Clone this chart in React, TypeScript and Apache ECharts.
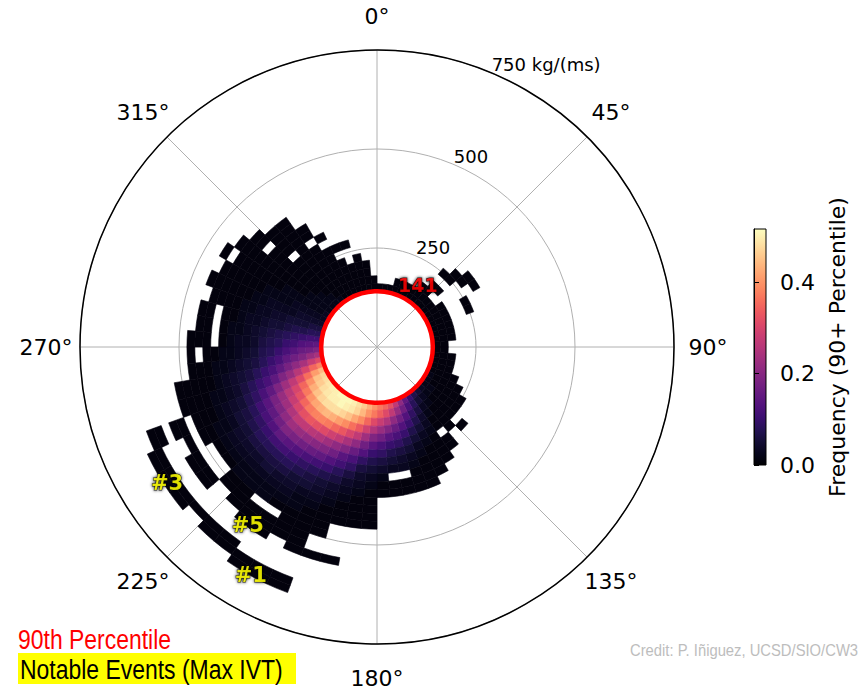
import React, { useEffect, useRef } from "react";
import * as echarts from "echarts";

// ---------- data ----------
const ANGLE_STEP = 5; // degrees, compass, clockwise from north
const R_START = 140; // kg/(ms), first radial bin edge
const R_STEP = 20; // kg/(ms)
const PCT90 = 141; // 90th percentile IVT
const R_MAX = 750;
const ANGLE_TICKS = [0, 45, 90, 135, 180, 225, 270, 315];
const RADIUS_TICKS = [250, 500, 750];
const RADIUS_UNIT = "kg/(ms)";
const COLOR_MAX = 0.516;
const COLORBAR_TICKS = [0, 0.2, 0.4];
const EVENT_NAMES = ["#1", "#5", "#3"];
const EVENT_IVT = [657, 555, 632];
const EVENT_DIR = [209, 216, 237];
const PCT_LABEL_IVT = 187;
const PCT_LABEL_DIR = 33.5;

// frequency (percent) per direction bin (row i = i*5 deg), radial bins from R_START by R_STEP; 0 = empty
const FREQ_ROWS: number[][] = [
  [1], // 0
  [1], // 5
  [1], // 10
  [1, 1], // 15
  [1, 1], // 20
  [1, 1], // 25
  [1, 1], // 30
  [1, 1, 1], // 35
  [1, 1, 1, 1, 0, 1], // 40
  [1, 1, 0, 1, 0, 1, 1], // 45
  [1, 1, 0, 0, 0, 0, 1, 1], // 50
  [1, 1, 1, 0, 0, 0, 0, 1], // 55
  [1, 1, 1, 0, 0, 1], // 60
  [1, 1, 1, 0, 0, 1], // 65
  [1, 1, 1], // 70
  [1, 1, 1], // 75
  [1, 1, 1], // 80
  [1, 1], // 85
  [1, 1], // 90
  [1, 1, 1], // 95
  [1, 1, 1], // 100
  [1, 1, 1], // 105
  [1, 1, 1, 1], // 110
  [2, 1, 1, 1, 1], // 115
  [2, 1, 1, 1, 1, 1], // 120
  [2, 2, 1, 1, 1, 1], // 125
  [3, 2, 1, 1, 1, 1, 0, 1], // 130
  [5, 3, 2, 1, 1, 1, 1], // 135
  [7, 5, 3, 2, 1, 1, 0, 1, 1], // 140
  [10, 8, 6, 4, 3, 2, 1, 1, 1, 1], // 145
  [15, 12, 9, 7, 5, 3, 2, 1, 1, 1, 1], // 150
  [21, 17, 13, 10, 7, 5, 3, 2, 1, 1, 1, 1], // 155
  [27, 22, 17, 13, 10, 7, 5, 3, 2, 1, 1, 1], // 160
  [32, 27, 21, 16, 12, 9, 6, 4, 3, 0, 1, 1], // 165
  [35, 31, 25, 19, 14, 10, 7, 5, 3, 0, 1, 1], // 170
  [37, 34, 28, 22, 17, 12, 9, 6, 4, 2, 1, 1], // 175
  [40, 37, 31, 25, 19, 14, 10, 7, 5, 3, 2, 1, 1, 1, 1, 1], // 180
  [43, 40, 35, 29, 23, 17, 13, 9, 6, 4, 3, 2, 1, 1, 1, 1], // 185
  [46, 44, 39, 33, 27, 21, 16, 12, 9, 6, 4, 3, 2, 1, 1, 1, 0, 0, 0, 0, 1], // 190
  [48, 47, 42, 36, 30, 24, 19, 14, 11, 8, 6, 4, 3, 2, 1, 1, 1, 1, 0, 0, 1], // 195
  [50, 49, 45, 39, 33, 27, 21, 17, 13, 10, 7, 5, 4, 3, 2, 1, 1, 1, 1, 1, 1, 0, 0, 0, 1, 1], // 200
  [51, 50, 47, 41, 35, 29, 23, 19, 15, 11, 8, 6, 5, 3, 2, 2, 1, 1, 1, 1, 0, 0, 0, 0, 1, 1], // 205
  [51, 51, 48, 43, 37, 31, 25, 20, 16, 12, 9, 7, 5, 4, 3, 2, 1, 0, 1, 1, 1, 0, 0, 0, 1, 1], // 210
  [51, 50, 48, 44, 38, 32, 26, 21, 17, 13, 10, 8, 6, 4, 3, 2, 2, 0, 1, 1, 1, 0, 0, 1, 1], // 215
  [50, 50, 48, 43, 38, 33, 27, 22, 18, 14, 11, 8, 6, 5, 3, 2, 2, 1, 1, 1, 0, 0, 0, 1, 1], // 220
  [50, 49, 47, 42, 37, 32, 27, 23, 19, 15, 11, 8, 6, 4, 3, 2, 2, 1, 1, 0, 0, 0, 0, 1], // 225
  [49, 48, 45, 40, 35, 30, 25, 21, 17, 13, 10, 8, 6, 4, 3, 2, 1, 0, 0, 1, 1, 0, 0, 1, 1], // 230
  [48, 46, 43, 37, 32, 28, 23, 19, 15, 12, 9, 7, 5, 4, 3, 2, 1, 0, 0, 1, 1, 0, 0, 1, 1], // 235
  [47, 45, 40, 35, 30, 26, 22, 18, 14, 11, 8, 6, 5, 3, 2, 2, 1, 1, 0, 1, 0, 0, 0, 1, 1], // 240
  [44, 41, 36, 31, 27, 23, 19, 15, 12, 9, 7, 5, 4, 3, 2, 1, 1, 1, 0, 1, 1, 0, 1, 1], // 245
  [38, 35, 30, 26, 22, 19, 15, 12, 10, 8, 6, 4, 3, 2, 2, 1, 1, 1, 1], // 250
  [31, 28, 24, 21, 18, 15, 12, 10, 8, 6, 5, 4, 3, 2, 1, 1, 1, 1, 1], // 255
  [24, 22, 19, 17, 15, 12, 10, 8, 6, 5, 4, 3, 2, 2, 1, 1, 1], // 260
  [19, 17, 16, 14, 12, 10, 8, 7, 5, 4, 3, 2, 2, 1, 1, 0, 1], // 265
  [15, 14, 13, 11, 10, 8, 7, 6, 4, 3, 3, 2, 1, 0, 1, 1, 1], // 270
  [11, 11, 10, 9, 8, 7, 6, 5, 4, 3, 2, 2, 1, 0, 1, 1], // 275
  [8, 8, 7, 7, 6, 5, 5, 4, 3, 3, 2, 1, 1, 0, 1, 1], // 280
  [6, 6, 5, 5, 5, 4, 4, 3, 3, 2, 2, 1, 1, 1, 1], // 285
  [4, 4, 4, 4, 3, 3, 3, 3, 2, 2, 1, 1, 1, 1, 1, 1], // 290
  [3, 3, 3, 3, 3, 2, 2, 2, 2, 1, 1, 1, 1, 1, 1], // 295
  [3, 2, 2, 2, 2, 2, 2, 1, 1, 1, 1, 1, 1, 1, 0, 1], // 300
  [2, 2, 2, 2, 1, 1, 1, 1, 1, 1, 1, 1, 1, 1, 1], // 305
  [2, 2, 2, 1, 1, 1, 1, 1, 1, 1, 1, 0, 1, 1], // 310
  [2, 2, 1, 1, 1, 1, 1, 1, 0, 1, 1, 1, 1], // 315
  [2, 1, 1, 1, 1, 1, 1, 1, 1, 1, 1, 1, 1], // 320
  [1, 1, 1, 1, 1, 1, 1, 1, 0, 1, 1], // 325
  [1, 1, 1, 1, 1, 1, 1, 0, 1], // 330
  [1, 1, 1, 1, 1, 0, 1], // 335
  [1, 1, 1, 1, 0, 0, 1], // 340
  [1, 1, 1, 1, 1], // 345
  [1, 1, 1, 1], // 350
  [1, 1], // 355
];

const MAGMA = [
  "#000004", "#07061c", "#140e36", "#251255", "#3b0f70", "#51127c", "#641a80",
  "#782281", "#8c2981", "#a1307e", "#b73779", "#ca3e72", "#de4968", "#ed5a5f",
  "#f7705c", "#fc8961", "#fe9f6d", "#feb77e", "#fecf92", "#fde7a9", "#fcfdbf",
];

// ---------- layout ----------
const CX = 377;
const CY = 347;
const RADIUS_PX = 297;
const ANGLE_LABEL_R = 331;
const FONT = '"DejaVu Sans", sans-serif';
const NARROW = '"Liberation Sans Narrow", "Liberation Sans", Arial, sans-serif';

export default function App() {
  const ref = useRef<HTMLDivElement>(null);
  useEffect(() => {
    if (!ref.current) return;
    const chart = echarts.init(ref.current, undefined, { renderer: "svg" });

    const cells: number[][] = [];
    FREQ_ROWS.forEach((row, i) => {
      const a0 = i * ANGLE_STEP;
      row.forEach((v, j) => {
        if (v > 0) cells.push([R_START + j * R_STEP, R_START + (j + 1) * R_STEP, a0, a0 + ANGLE_STEP, v / 100]);
      });
    });

    const sectorItem = (params: any, api: any) => {
      const cs = params.coordSys;
      const p0 = api.coord([api.value(0), api.value(2)]);
      const p1 = api.coord([api.value(1), api.value(3)]);
      const r0 = Math.hypot(p0[0] - cs.cx, p0[1] - cs.cy);
      const r1 = Math.hypot(p1[0] - cs.cx, p1[1] - cs.cy);
      const s = Math.atan2(p0[1] - cs.cy, p0[0] - cs.cx);
      let e = Math.atan2(p1[1] - cs.cy, p1[0] - cs.cx);
      if (e <= s) e += Math.PI * 2;
      const c = api.visual("color");
      return {
        type: "sector",
        shape: { cx: cs.cx, cy: cs.cy, r0, r: r1, startAngle: s, endAngle: e, clockwise: true },
        style: { fill: c, stroke: c, lineWidth: 0.6 },
      };
    };

    const ringItem = (params: any, api: any) => {
      const cs = params.coordSys;
      const p = api.coord([api.value(0), api.value(1)]);
      const r = Math.hypot(p[0] - cs.cx, p[1] - cs.cy);
      return {
        type: "circle",
        shape: { cx: cs.cx, cy: cs.cy, r },
        style: { fill: "none", stroke: "#ff0000", lineWidth: 4.5 },
      };
    };

    const angleLabels = ANGLE_TICKS.map((t) => {
      const rad = (t * Math.PI) / 180;
      return {
        type: "text",
        x: CX + ANGLE_LABEL_R * Math.sin(rad),
        y: CY - ANGLE_LABEL_R * Math.cos(rad),
        style: { text: `${t}°`, fill: "#000", font: `22px ${FONT}`, align: "center", verticalAlign: "middle" },
        silent: true,
      };
    });
    const rlabRad = (22.5 * Math.PI) / 180;
    const radiusLabels = RADIUS_TICKS.map((v) => {
      const rp = (v / R_MAX) * RADIUS_PX;
      return {
        type: "text",
        x: CX + rp * Math.sin(rlabRad) + 1,
        y: CY - rp * Math.cos(rlabRad) + 1,
        style: {
          text: v === R_MAX ? `${v} ${RADIUS_UNIT}` : `${v}`,
          fill: "#000",
          font: `18px ${FONT}`,
          align: "left",
          verticalAlign: "bottom",
        },
        silent: true,
      };
    });

    const outlined = (color: string, size: number) => ({
      show: true,
      position: "inside",
      formatter: (p: any) => p.name,
      color,
      fontSize: size,
      fontWeight: "bold",
      fontFamily: FONT,
      textBorderColor: "#000",
      textBorderWidth: 1,
      textShadowColor: "#000",
      textShadowBlur: 3,
    });

    const option: any = {
      animation: false,
      backgroundColor: "#ffffff",
      polar: { center: [CX, CY], radius: RADIUS_PX },
      angleAxis: {
        type: "value",
        min: 0,
        max: 360,
        interval: 45,
        startAngle: 90,
        clockwise: true,
        axisLine: { show: true, lineStyle: { color: "#000", width: 1.5 } },
        axisTick: { show: false },
        axisLabel: { show: false },
        splitLine: { show: true, lineStyle: { color: "#b0b0b0", width: 1 } },
      },
      radiusAxis: {
        type: "value",
        min: 0,
        max: R_MAX,
        interval: 250,
        axisLine: { show: false },
        axisTick: { show: false },
        axisLabel: { show: false },
        splitLine: { show: true, lineStyle: { color: "#b0b0b0", width: 1 } },
      },
      grid: [
        {
          left: 754,
          top: 229,
          width: 12,
          height: 236,
          show: true,
          backgroundColor: new echarts.graphic.LinearGradient(
            0, 1, 0, 0,
            MAGMA.map((c, i) => ({ offset: i / (MAGMA.length - 1), color: c }))
          ),
          borderColor: "#000",
          borderWidth: 1,
        },
      ],
      xAxis: [{ gridIndex: 0, type: "value", show: false, min: 0, max: 1 }],
      yAxis: [
        {
          gridIndex: 0,
          type: "value",
          position: "right",
          min: 0,
          max: COLOR_MAX,
          interval: 0.2,
          axisLine: { show: true, lineStyle: { color: "#000", width: 1 } },
          axisTick: { show: true, length: 5, lineStyle: { color: "#000" }, customValues: COLORBAR_TICKS },
          splitLine: { show: false },
          axisLabel: {
            fontSize: 22,
            fontFamily: FONT,
            color: "#000",
            margin: 14,
            customValues: COLORBAR_TICKS,
            formatter: (v: number) => v.toFixed(1),
          },
          name: "Frequency (90+ Percentile)",
          nameLocation: "middle",
          nameRotate: 90,
          nameGap: 60,
          nameTextStyle: { fontSize: 22, fontFamily: FONT, color: "#000" },
        },
      ],
      visualMap: {
        type: "continuous",
        show: false,
        min: 0,
        max: COLOR_MAX,
        dimension: 4,
        seriesIndex: 0,
        inRange: { color: MAGMA },
      },
      series: [
        {
          type: "custom",
          coordinateSystem: "polar",
          silent: true,
          renderItem: sectorItem,
          data: cells,
          z: 2,
        },
        {
          type: "custom",
          coordinateSystem: "polar",
          silent: true,
          renderItem: ringItem,
          data: [[PCT90, 0]],
          z: 3,
        },
        {
          type: "scatter",
          coordinateSystem: "polar",
          silent: true,
          symbolSize: 1,
          itemStyle: { color: "rgba(0,0,0,0)" },
          z: 4,
          label: outlined("#ffff00", 21),
          data: EVENT_NAMES.map((n, i) => ({ name: n, value: [EVENT_IVT[i], EVENT_DIR[i]] })),
        },
        {
          type: "scatter",
          coordinateSystem: "polar",
          silent: true,
          symbolSize: 1,
          itemStyle: { color: "rgba(0,0,0,0)" },
          z: 4,
          label: outlined("#ff0000", 19),
          data: [{ name: String(PCT90), value: [PCT_LABEL_IVT, PCT_LABEL_DIR] }],
        },
      ],
      graphic: [
        ...angleLabels,
        ...radiusLabels,
        {
          type: "text",
          x: 18,
          y: 639,
          scaleX: 0.85,
          style: { text: "90th Percentile", fill: "#ff0000", font: `27px ${NARROW}`, verticalAlign: "middle" },
          silent: true,
        },
        {
          type: "rect",
          shape: { x: 18, y: 653, width: 278, height: 31 },
          style: { fill: "#ffff00" },
          silent: true,
        },
        {
          type: "text",
          x: 20,
          y: 669,
          scaleX: 0.85,
          style: { text: "Notable Events (Max IVT)", fill: "#000", font: `27px ${NARROW}`, verticalAlign: "middle" },
          silent: true,
        },
        {
          type: "text",
          x: 630,
          y: 650,
          scaleX: 0.87,
          style: { text: "Credit: P. Iñiguez, UCSD/SIO/CW3", fill: "#bdbdbd", font: `17px ${NARROW}`, verticalAlign: "middle" },
          silent: true,
        },
      ],
    };
    chart.setOption(option);
    return () => chart.dispose();
  }, []);
  return <div ref={ref} style={{ position: "absolute", left: 0, top: 0, width: 864, height: 689 }} />;
}
